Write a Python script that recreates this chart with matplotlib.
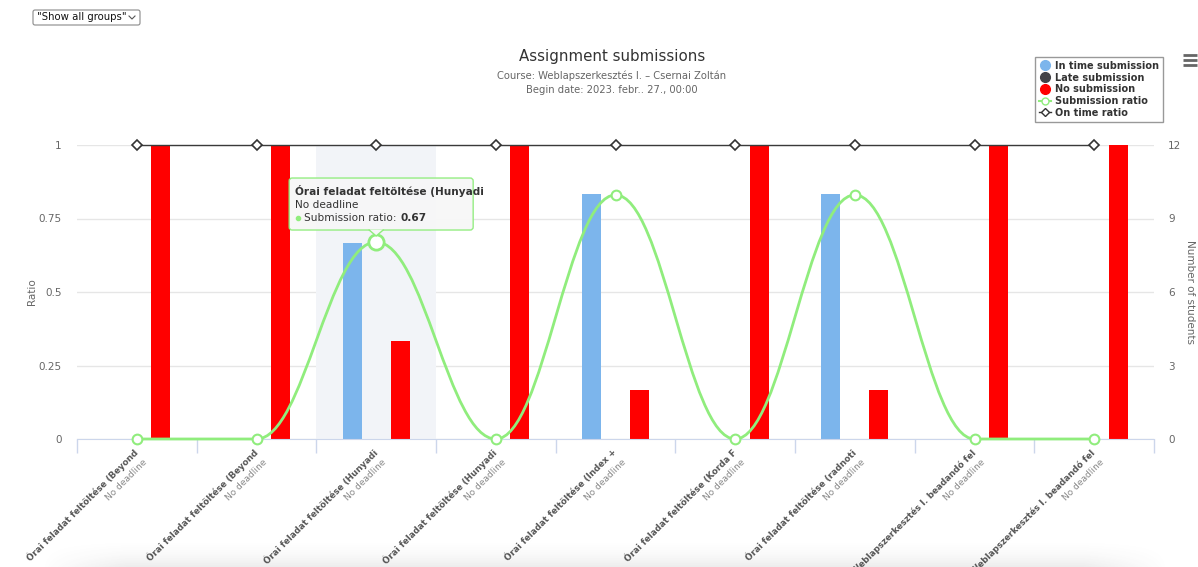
import numpy as np
import matplotlib
matplotlib.use("Agg")
import matplotlib.pyplot as plt
from matplotlib.path import Path
from matplotlib.patches import PathPatch, FancyBboxPatch, Polygon
from matplotlib.lines import Line2D
from matplotlib.transforms import ScaledTranslation

plt.rcParams['font.family'] = ['DejaVu Sans']

# ---- data ----
tasks = [
    "Órai feladat feltöltése (Beyond",
    "Órai feladat feltöltése (Beyond",
    "Órai feladat feltöltése (Hunyadi",
    "Órai feladat feltöltése (Hunyadi",
    "Órai feladat feltöltése (Index +",
    "Órai feladat feltöltése (Korda F",
    "Órai feladat feltöltése (radnoti",
    "Weblapszerkesztés I. beadandó fel",
    "Weblapszerkesztés I. beadandó fel",
]
deadlines = ["No deadline"] * 9
in_time = [0, 0, 8, 0, 10, 0, 10, 0, 0]
late = [0, 0, 0, 0, 0, 0, 0, 0, 0]
no_submission = [12, 12, 4, 12, 2, 12, 2, 12, 12]
n_students = 12
submission_ratio = [0, 0, 0.67, 0, 0.83, 0, 0.83, 0, 0]
on_time_ratio = [1, 1, 1, 1, 1, 1, 1, 1, 1]
ratio_ticks = [0, 0.25, 0.5, 0.75, 1]
ratio_tick_labels = ["0", "0.25", "0.5", "0.75", "1"]
student_ticks = [0, 3, 6, 9, 12]
hovered = 2

W, H = 1198, 567
fig = plt.figure(figsize=(W / 100, H / 100), dpi=100)

def fx(px):
    return px / W

def fy(py):
    return 1 - py / H

left, right, top, bottom = 77, 1154, 145, 439
ax2 = fig.add_axes([fx(left), fy(bottom), fx(right - left), (bottom - top) / H])
ax = ax2.twinx()
ax.set_position(ax2.get_position())
ax2.yaxis.tick_right()
ax.yaxis.tick_left()
ax.set_zorder(ax2.get_zorder() + 1)
ax.patch.set_visible(False)

n = len(tasks)
x = np.arange(n)
ax.set_xlim(-0.5, n - 0.5)
ax2.set_xlim(-0.5, n - 0.5)
ax.set_ylim(0, 1)
ax2.set_ylim(0, n_students)

# grid and hover band (behind the columns)
for t in student_ticks:
    ax2.axhline(t, color="#e6e6e6", lw=1, zorder=0)
ax2.axvspan(hovered - 0.5, hovered + 0.5, color="#f2f4f8", zorder=0.5, lw=0)

# columns
bw = 0.16
off = 0.2
ax2.bar(x - off, in_time, bw, color="#7cb5ec", zorder=2)
ax2.bar(x, late, bw, color="#434348", zorder=2)
ax2.bar(x + off, no_submission, bw, color="#ff0000", zorder=2)

# spline for the submission ratio (Highcharts-style smoothing)
def spline_path(xs, ys, smoothing=1.5):
    m = len(xs)
    lc = [None] * m
    rc = [None] * m
    d = smoothing + 1
    for i in range(1, m - 1):
        px, py = xs[i], ys[i]
        lx, ly = xs[i - 1], ys[i - 1]
        nx, ny = xs[i + 1], ys[i + 1]
        lcx = (smoothing * px + lx) / d
        lcy = (smoothing * py + ly) / d
        rcx = (smoothing * px + nx) / d
        rcy = (smoothing * py + ny) / d
        if rcx != lcx:
            corr = (rcy - lcy) * (rcx - px) / (rcx - lcx) + py - rcy
            lcy += corr
            rcy += corr
        if lcy > ly and lcy > py:
            lcy = max(ly, py); rcy = 2 * py - lcy
        elif lcy < ly and lcy < py:
            lcy = min(ly, py); rcy = 2 * py - lcy
        if rcy > ny and rcy > py:
            rcy = max(ny, py); lcy = 2 * py - rcy
        elif rcy < ny and rcy < py:
            rcy = min(ny, py); lcy = 2 * py - rcy
        lc[i] = (lcx, lcy)
        rc[i] = (rcx, rcy)
    verts = [(xs[0], ys[0])]
    codes = [Path.MOVETO]
    for i in range(1, m):
        c1 = rc[i - 1] if rc[i - 1] is not None else (xs[i - 1], ys[i - 1])
        c2 = lc[i] if lc[i] is not None else (xs[i], ys[i])
        verts += [c1, c2, (xs[i], ys[i])]
        codes += [Path.CURVE4] * 3
    return Path(verts, codes)

green = "#90ed7d"
ax.add_patch(PathPatch(spline_path(list(x), submission_ratio), fill=False,
                       edgecolor=green, lw=2, zorder=4, clip_on=False))
ax.plot(x, submission_ratio, ls="none", marker="o", ms=7, mfc="white",
        mec=green, mew=1.5, zorder=5, clip_on=False)
ax.plot([x[hovered]], [submission_ratio[hovered]], ls="none", marker="o", ms=11,
        mfc="white", mec=green, mew=2, zorder=6, clip_on=False)

ax.plot(x, on_time_ratio, color="#3a3a3a", lw=1, marker="D", ms=5, mfc="white",
        mec="#333333", mew=1.2, zorder=5, clip_on=False)

# axes styling
for a in (ax, ax2):
    for s in a.spines.values():
        s.set_visible(False)
ax2.spines["bottom"].set_visible(True)
ax2.spines["bottom"].set_color("#ccd6eb")
ax.set_yticks(ratio_ticks)
ax.set_yticklabels(ratio_tick_labels)
ax2.set_yticks(student_ticks)
ax.tick_params(axis="y", length=0, pad=11, labelsize=7.5, labelcolor="#666666")
ax2.tick_params(axis="y", length=0, pad=10, labelsize=7.5, labelcolor="#666666")
ax.set_xticks([])
ax2.set_xticks(np.arange(-0.5, n, 1.0))
ax2.set_xticklabels([])
ax2.tick_params(axis="x", length=10, color="#ccd6eb", width=1)

fig.text(fx(32), fy(292), "Ratio", rotation=90, ha="center", va="center",
         fontsize=7.5, color="#666666")
fig.text(fx(1190), fy(292), "Number of students", rotation=270, ha="center",
         va="center", fontsize=7.5, color="#666666")

# category labels, rotated, two lines each
for i in range(n):
    base = ax2.get_xaxis_transform()
    t1 = base + ScaledTranslation(0, -0.12, fig.dpi_scale_trans)
    ax2.text(i, 0, tasks[i], transform=t1, rotation=45, rotation_mode="anchor",
             ha="right", va="center", fontsize=6.3, fontweight="bold",
             color="#555555", clip_on=False)
    t2 = base + ScaledTranslation(0.09, -0.215, fig.dpi_scale_trans)
    ax2.text(i, 0, deadlines[i], transform=t2, rotation=45, rotation_mode="anchor",
             ha="right", va="center", fontsize=6.5, color="#888888", clip_on=False)

# titles
fig.text(fx(612), fy(57), "Assignment submissions", ha="center", va="center",
         fontsize=10.8, color="#333333")
fig.text(fx(612), fy(76), "Course: Weblapszerkesztés I. – Csernai Zoltán",
         ha="center", va="center", fontsize=7.2, color="#666666")
fig.text(fx(612), fy(90), "Begin date: 2023. febr.. 27., 00:00",
         ha="center", va="center", fontsize=7.2, color="#666666")

# legend
handles = [
    Line2D([], [], ls="none", marker="o", ms=7, color="#7cb5ec"),
    Line2D([], [], ls="none", marker="o", ms=7, color="#434348"),
    Line2D([], [], ls="none", marker="o", ms=7, color="#ff0000"),
    Line2D([], [], color=green, lw=1.5, marker="o", ms=5, mfc="white", mec=green),
    Line2D([], [], color="#333333", lw=1, marker="D", ms=4, mfc="white", mec="#333333"),
]
labels = ["In time submission", "Late submission", "No submission",
          "Submission ratio", "On time ratio"]
leg = fig.legend(handles, labels, loc="upper left",
                 bbox_to_anchor=(fx(1035), fy(57)), frameon=True, fancybox=False,
                 prop={"size": 7, "weight": "bold"}, handlelength=1.2,
                 handletextpad=0.45, labelspacing=0.18, borderpad=0.4,
                 borderaxespad=0, edgecolor="#999999", framealpha=1)
leg.get_frame().set_linewidth(1)
for t in leg.get_texts():
    t.set_color("#333333")

# overlay for page decorations
ov = fig.add_axes([0, 0, 1, 1], zorder=10)
ov.set_xlim(0, W)
ov.set_ylim(H, 0)
ov.axis("off")
ov.patch.set_visible(False)

# menu icon
for yy in (55, 60, 65):
    ov.plot([1183, 1197], [yy, yy], color="#666666", lw=2, solid_capstyle="butt")

# group selector
ov.add_patch(FancyBboxPatch((33, 10), 107, 15, boxstyle="round,pad=0,rounding_size=2",
                            fc="white", ec="#8a8a8a", lw=0.8))
ov.text(37, 17.5, '"Show all groups"', ha="left", va="center", fontsize=7.3,
        color="#111111")
ov.plot([129, 132, 135], [16, 19, 16], color="#555555", lw=0.8)

# tooltip
fig.canvas.draw()
px, py = ax.transData.transform((hovered, submission_ratio[hovered]))
py = H - py
tx0, ty0, tw, th = px - 87, py - 64, 184, 52
ov.add_patch(FancyBboxPatch((tx0, ty0), tw, th, boxstyle="round,pad=0,rounding_size=3",
                            fc="#f7f7f7", ec=green, lw=1, alpha=0.95, zorder=20))
ov.add_patch(Polygon([(px - 7, ty0 + th - 0.5), (px, py - 6), (px + 7, ty0 + th - 0.5)],
                     closed=True, fc="#f7f7f7", ec="none", zorder=21))
ov.plot([px - 7, px, px + 7], [ty0 + th, py - 6, ty0 + th], color=green, lw=1, zorder=22)
ov.text(tx0 + 6, ty0 + 13, tasks[hovered], fontsize=7.6, fontweight="bold",
        color="#333333", va="center", zorder=23)
ov.text(tx0 + 6, ty0 + 27, deadlines[hovered], fontsize=7.6, color="#333333",
        va="center", zorder=23)
ov.plot([tx0 + 9], [ty0 + 40], marker="o", ms=3, color=green, zorder=23)
lab = ov.text(tx0 + 15, ty0 + 40, "Submission ratio: ", fontsize=7.6, color="#333333",
              va="center", zorder=23)
fig.canvas.draw()
bb = lab.get_window_extent()
ov.text(tx0 + 15 + bb.width, ty0 + 40, f"{submission_ratio[hovered]:.2f}", fontsize=7.6,
        fontweight="bold", color="#333333", va="center", zorder=23)

# soft shadow along the bottom edge of the page
gy = np.linspace(0, 1, 40)[:, None]
gx = np.linspace(-1, 1, 400)[None, :]
edge = np.clip((1 - np.abs(gx)) / 0.15, 0, 1)
alpha = (gy ** 2.2) * edge * 0.10
img = np.zeros((40, 400, 4))
img[..., :3] = 0.3
img[..., 3] = alpha
ov.imshow(img, extent=(40, 1170, 567, 535), aspect="auto", zorder=1,
          interpolation="bilinear")

fig.savefig("out.png", dpi=100)
